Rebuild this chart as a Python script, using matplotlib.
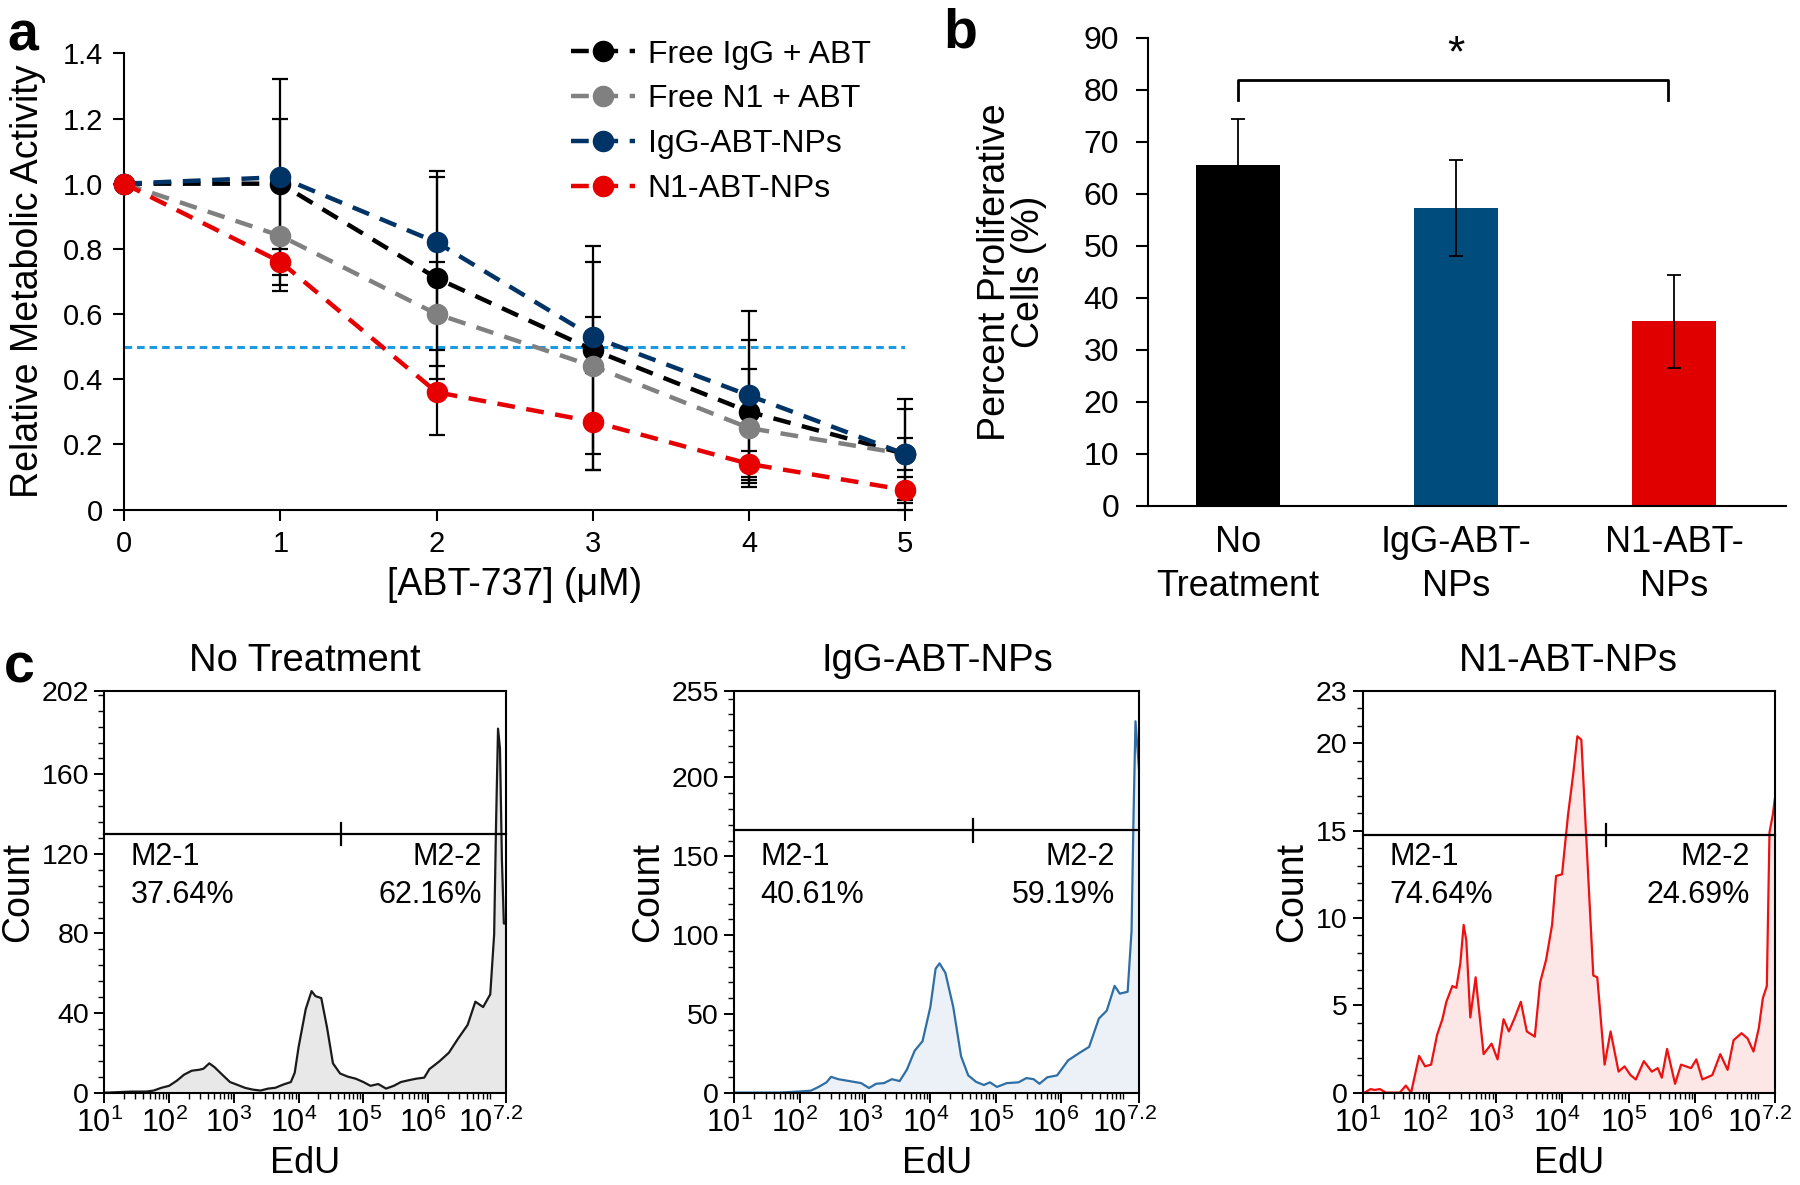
import numpy as np
import matplotlib
matplotlib.use("Agg")
import matplotlib.pyplot as plt
from matplotlib.ticker import FixedLocator, NullFormatter, LogLocator
from matplotlib.transforms import ScaledTranslation

plt.rcParams['font.family'] = ['Liberation Sans', 'DejaVu Sans']
plt.rcParams['mathtext.fontset'] = 'custom'
plt.rcParams['mathtext.rm'] = 'Liberation Sans'
plt.rcParams['mathtext.it'] = 'Liberation Sans:italic'
plt.rcParams['mathtext.bf'] = 'Liberation Sans:bold'

# ---------------- Panel a data ----------------
conc = [0, 1, 2, 3, 4, 5]
series_names = ["Free IgG + ABT", "Free N1 + ABT", "IgG-ABT-NPs", "N1-ABT-NPs"]
free_igg = [1.00, 1.00, 0.71, 0.49, 0.30, 0.17]
free_igg_err = [0, 0.20, 0.31, 0.32, 0.22, 0.14]
free_n1 = [1.00, 0.84, 0.60, 0.44, 0.25, 0.17]
free_n1_err = [0, 0.15, 0.16, 0.32, 0.18, 0.05]
igg_nps = [1.00, 1.02, 0.82, 0.53, 0.35, 0.17]
igg_nps_err = [0, 0.30, 0.22, 0.06, 0.26, 0.17]
n1_nps = [1.00, 0.76, 0.36, 0.27, 0.14, 0.06]
n1_nps_err = [0, 0.09, 0.13, 0.15, 0.04, 0.04]
series_colors = ["#000000", "#808080", "#003366", "#E60000"]
ic50_level = 0.5

# ---------------- Panel b data ----------------
groups_b = ["No\nTreatment", "IgG-ABT-\nNPs", "N1-ABT-\nNPs"]
prolif = [65.5, 57.3, 35.5]
prolif_err = [9.0, 9.2, 9.0]
bar_colors = ["#000000", "#004C7C", "#E00000"]

# ---------------- Panel c data (log10 EdU, count) ----------------
nt_log = [1.00, 1.06, 1.41, 1.65, 1.76, 1.88, 2.00, 2.12, 2.23, 2.35, 2.47, 2.53, 2.62, 2.70,
          2.82, 2.94, 3.06, 3.17, 3.29, 3.41, 3.53, 3.64, 3.76, 3.88, 3.94, 4.00, 4.11, 4.20,
          4.26, 4.35, 4.44, 4.53, 4.64, 4.76, 4.88, 5.00, 5.11, 5.23, 5.35, 5.47, 5.58, 5.70,
          5.82, 5.94, 6.02, 6.17, 6.32, 6.46, 6.61, 6.73, 6.85, 6.96, 7.02, 7.05, 7.08, 7.11,
          7.14, 7.17, 7.20]
nt_count = [0, 0, 0.5, 0.5, 1.0, 2.4, 3.4, 6.0, 9.0, 11.0, 11.5, 12.0, 14.7, 12.8,
            9.0, 5.3, 3.8, 2.4, 1.5, 1.0, 2.0, 2.4, 4.0, 5.3, 10.0, 23.0, 42.0, 51.0,
            48.5, 47.5, 32.5, 14.7, 9.6, 8.0, 7.0, 5.3, 3.4, 4.3, 2.0, 3.4, 5.3, 6.2,
            7.0, 7.5, 11.8, 15.6, 20.0, 27.0, 34.0, 45.7, 43.0, 49.4, 79.5, 136.0, 183.0, 173.0,
            117.0, 85.0, 85.0]

igg_log = [1.00, 1.70, 2.00, 2.17, 2.29, 2.41, 2.48, 2.59, 2.76, 2.94, 3.06, 3.17, 3.29,
           3.41, 3.53, 3.64, 3.76, 3.88, 4.00, 4.08, 4.14, 4.23, 4.35, 4.47, 4.58, 4.70,
           4.82, 4.91, 5.02, 5.17, 5.35, 5.47, 5.58, 5.67, 5.79, 5.94, 6.11, 6.29, 6.43,
           6.58, 6.70, 6.82, 6.90, 7.02, 7.08, 7.11, 7.14, 7.17, 7.20]
igg_count = [0, 0, 0.7, 1.2, 3.6, 6.5, 10.0, 8.5, 7.3, 6.0, 2.9, 5.6, 6.0,
             8.5, 7.3, 14.5, 26.6, 32.6, 54.4, 78.6, 82.0, 76.0, 54.4, 23.0, 10.9, 6.8,
             4.8, 6.5, 3.6, 6.0, 6.5, 9.2, 8.5, 5.6, 9.7, 10.9, 20.5, 25.4, 29.0,
             47.0, 52.0, 67.7, 62.8, 64.0, 102.7, 175.0, 235.7, 218.8, 201.8]

n1_log = [1.00, 1.03, 1.12, 1.18, 1.26, 1.35, 1.56, 1.65, 1.73, 1.85, 1.94, 2.03, 2.12, 2.20,
          2.26, 2.35, 2.41, 2.47, 2.52, 2.56, 2.62, 2.70, 2.82, 2.94, 3.03, 3.12, 3.20, 3.29,
          3.38, 3.47, 3.59, 3.67, 3.76, 3.85, 3.91, 4.00, 4.09, 4.17, 4.23, 4.29, 4.38, 4.47,
          4.53, 4.64, 4.73, 4.85, 4.94, 5.03, 5.11, 5.23, 5.35, 5.44, 5.50, 5.58, 5.70, 5.79,
          5.94, 6.02, 6.11, 6.26, 6.38, 6.49, 6.58, 6.70, 6.79, 6.88, 6.96, 7.02, 7.08, 7.12,
          7.17, 7.20]
n1_count = [0, 0, 0.2, 0.15, 0.2, 0, 0, 0.4, 0, 2.1, 1.5, 1.6, 3.3, 4.2,
            5.2, 6.1, 6.0, 7.4, 9.6, 8.7, 4.3, 6.6, 2.2, 2.8, 1.9, 4.2, 3.5, 4.3,
            5.2, 3.5, 3.2, 6.3, 7.6, 9.6, 12.4, 12.5, 15.9, 18.3, 20.4, 20.2, 13.4, 6.7,
            6.6, 1.6, 3.5, 1.2, 1.5, 1.0, 0.75, 1.8, 1.2, 1.4, 0.85, 2.5, 0.5, 1.6,
            1.4, 1.9, 0.75, 1.0, 2.2, 1.3, 3.0, 3.4, 3.1, 2.35, 3.7, 5.4, 6.1, 14.9,
            15.9, 16.8]

hist_titles = ["No Treatment", "IgG-ABT-NPs", "N1-ABT-NPs"]
hist_ymax = [202, 255, 23]
hist_yticks = [[0, 40, 80, 120, 160, 202], [0, 50, 100, 150, 200, 255], [0, 5, 10, 15, 20, 23]]
hist_minor_step = [8, 10, 1]
gate_level = [130, 166.5, 14.75]
gate_split_log = 4.66
pct_left = ["37.64%", "40.61%", "74.64%"]
pct_right = ["62.16%", "59.19%", "24.69%"]
line_cols = ["#1a1a1a", "#2F6EA5", "#EE1111"]
fill_cols = ["#E8E8E8", "#EBF1F6", "#FDE6E6"]

# ---------------- Figure ----------------
fig = plt.figure(figsize=(18, 11.85), dpi=100)

LBL = 27
TCK = 21

# ---- Panel a ----
axa = fig.add_axes([0.069, 0.570, 0.434, 0.385])
vals = [free_igg, free_n1, igg_nps, n1_nps]
errs = [free_igg_err, free_n1_err, igg_nps_err, n1_nps_err]
for v, e in zip(vals, errs):
    axa.errorbar(conc, v, yerr=e, fmt='none', ecolor='black', elinewidth=1.6,
                 capsize=6, capthick=1.6, zorder=2, clip_on=False)
axa.axhline(ic50_level, color="#1E9BE0", lw=2.2, ls=(0, (2.5, 1.6)), zorder=1)
for v, name, c in zip(vals, series_names, series_colors):
    axa.plot(conc, v, color=c, lw=3.2, ls=(0, (4, 2.6)), marker='o', ms=14.5,
             mec=c, mfc=c, label=name, zorder=3, clip_on=False)
axa.set_xlim(0, 5)
axa.set_ylim(0, 1.4)
axa.set_yticks([0, 0.2, 0.4, 0.6, 0.8, 1.0, 1.2, 1.4])
axa.set_yticklabels(["0", "0.2", "0.4", "0.6", "0.8", "1.0", "1.2", "1.4"])
axa.set_xticks(conc)
for s in ['top', 'right']:
    axa.spines[s].set_visible(False)
for s in ['left', 'bottom']:
    axa.spines[s].set_linewidth(1.5)
axa.tick_params(direction='out', length=8, width=1.5, labelsize=TCK, pad=7)
axa.set_ylabel("Relative Metabolic Activity", fontsize=LBL, labelpad=12)
axa.set_xlabel("[ABT-737] (μM)", fontsize=LBL, labelpad=6)
leg = axa.legend(loc='upper left', bbox_to_anchor=(0.572, 1.03), frameon=False,
                 fontsize=23, handlelength=2.0, handletextpad=0.4, labelspacing=0.46,
                 borderpad=0, borderaxespad=0, markerscale=1.0)

# ---- Panel b ----
axb = fig.add_axes([0.638, 0.573, 0.354, 0.395])
xb = np.arange(len(groups_b))
axb.bar(xb, prolif, width=0.385, color=bar_colors, zorder=2)
axb.errorbar(xb, prolif, yerr=prolif_err, fmt='none', ecolor='black', elinewidth=1.3,
             capsize=5, capthick=1.3, zorder=3)
axb.set_xlim(-0.41, 2.51)
axb.set_ylim(0, 90)
axb.set_yticks(range(0, 91, 10))
axb.set_xticks(xb)
axb.set_xticklabels(groups_b, fontsize=26, linespacing=1.3)
for s in ['top', 'right']:
    axb.spines[s].set_visible(False)
for s in ['left', 'bottom']:
    axb.spines[s].set_linewidth(1.5)
axb.tick_params(axis='y', direction='out', length=9, width=1.5, labelsize=23, pad=12)
axb.tick_params(axis='x', length=0, pad=14)
axb.set_ylabel("Percent Proliferative\nCells (%)", fontsize=LBL, labelpad=26, linespacing=0.95)
axb.plot([0, 0, 1.97, 1.97], [78, 82, 82, 78], color='black', lw=2)
axb.text(1, 82.8, "*", fontsize=32, ha='center', va='bottom')

# ---- Panel c ----
c_lefts = [0.058, 0.408, 0.757]
c_widths = [0.223, 0.225, 0.229]
hist_logs = [nt_log, igg_log, n1_log]
hist_counts = [nt_count, igg_count, n1_count]
for i in range(3):
    ax = fig.add_axes([c_lefts[i], 0.078, c_widths[i], 0.339])
    x = 10 ** np.array(hist_logs[i])
    y = np.array(hist_counts[i])
    ax.fill_between(x, y, 0, color=fill_cols[i], lw=0, zorder=1)
    ax.plot(x, y, color=line_cols[i], lw=1.6, zorder=2)
    ax.set_xscale('log')
    ax.set_xlim(10 ** 1, 10 ** 7.2)
    ax.set_ylim(0, hist_ymax[i])
    ax.set_yticks(hist_yticks[i])
    ax.yaxis.set_minor_locator(FixedLocator(np.arange(0, hist_ymax[i], hist_minor_step[i])))
    ax.xaxis.set_major_locator(FixedLocator([10.0 ** k for k in range(1, 7)] + [10 ** 7.2]))
    ax.set_xticklabels([r"$10^{%d}$" % k for k in range(1, 7)] + [r"$10^{7.2}$"])
    ax.xaxis.set_minor_locator(LogLocator(base=10, subs=np.arange(2, 10), numticks=20))
    ax.xaxis.set_minor_formatter(NullFormatter())
    for s in ax.spines.values():
        s.set_linewidth(1.5)
    ax.tick_params(which='major', direction='out', length=7, width=1.4, labelsize=20.5, pad=4)
    ax.tick_params(which='minor', direction='out', length=4, width=1.0)
    ax.tick_params(axis='x', which='major', labelsize=22)
    for lab in ax.get_xticklabels():
        lab.set_transform(lab.get_transform() + ScaledTranslation(-0.05, 0, fig.dpi_scale_trans))
    last = ax.get_xticklabels()[-1]
    last.set_transform(last.get_transform() + ScaledTranslation(-0.10, 0, fig.dpi_scale_trans))
    g = gate_level[i]
    ax.plot([10 ** 1, 10 ** 7.2], [g, g], color='black', lw=1.6, zorder=3, clip_on=False)
    d = 0.028 * hist_ymax[i]
    ax.plot([10 ** gate_split_log] * 2, [g - d, g + d], color='black', lw=1.6, zorder=3)
    ax.text(0.065, 0.566, "M2-1", transform=ax.transAxes, fontsize=22, ha='left', va='baseline')
    ax.text(0.065, 0.473, pct_left[i], transform=ax.transAxes, fontsize=22, ha='left', va='baseline')
    ax.text(0.94, 0.566, "M2-2", transform=ax.transAxes, fontsize=22, ha='right', va='baseline')
    ax.text(0.94, 0.473, pct_right[i], transform=ax.transAxes, fontsize=22, ha='right', va='baseline')
    ax.set_title(hist_titles[i], fontsize=27.5, pad=14)
    ax.set_ylabel("Count", fontsize=LBL, labelpad=4)
    ax.set_xlabel("EdU", fontsize=26, labelpad=5)

# panel letters
fig.text(0.004, 0.957, "a", fontsize=40, fontweight='bold', ha='left', va='baseline')
fig.text(0.524, 0.960, "b", fontsize=40, fontweight='bold', ha='left', va='baseline')
fig.text(0.002, 0.424, "c", fontsize=40, fontweight='bold', ha='left', va='baseline')

fig.savefig("out.png", dpi=100)
